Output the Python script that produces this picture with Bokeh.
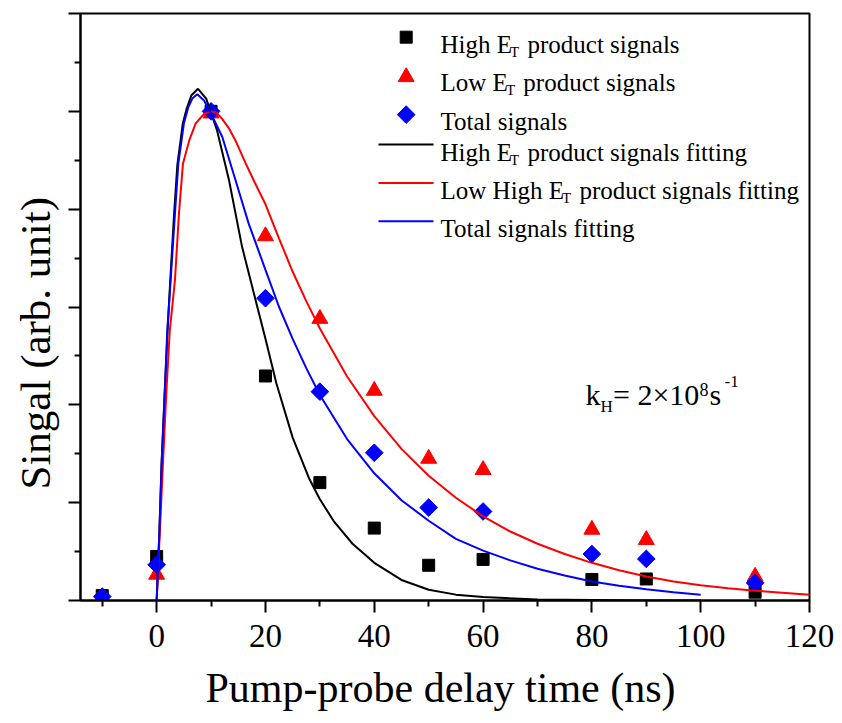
import math
from bokeh.plotting import figure
from bokeh.models import Range1d, FixedTicker, Label, Title, CustomJSTickFormatter
from bokeh.embed import file_html
from bokeh.resources import INLINE

# ---------------- data ----------------
delay = [-10, 0, 10, 20, 30, 40, 50, 60, 80, 90, 110]
high_et = [0.010, 0.090, 1.0, 0.459, 0.241, 0.148, 0.072, 0.084, 0.043, 0.044, 0.017]
low_et = [0.004, 0.053, 0.996, 0.745, 0.576, 0.429, 0.290, 0.267, 0.145, 0.124, 0.049]
total = [0.008, 0.073, 1.0, 0.618, 0.427, 0.302, 0.190, 0.182, 0.095, 0.085, 0.036]

high_fit_x = [0, 0.5, 0.9, 1.5, 2.0, 2.5, 3.2, 3.8, 4.8, 5.5, 6.4, 7.6, 9.1, 11.1, 13.3, 15.7,
              18.8, 20, 22, 25, 28, 30, 32.5, 36, 40, 45, 50, 55, 60, 70, 80, 90, 100]
high_fit_y = [0, 0.14, 0.28, 0.43, 0.55, 0.655, 0.79, 0.89, 0.975, 1.005, 1.033, 1.046, 1.026,
              0.961, 0.859, 0.723, 0.587, 0.535, 0.444, 0.333, 0.25, 0.207, 0.163, 0.116, 0.077,
              0.042, 0.022, 0.012, 0.007, 0.002, 0.001, 0.0, 0.0]

low_fit_x = [0, 0.5, 1.16, 1.8, 2.4, 3.36, 4.1, 4.83, 6.0, 7.16, 8.7, 10.2, 11.0, 12.0, 13.3,
             14.5, 16.3, 18.0, 20, 22.5, 25, 27.5, 30, 35, 40, 45, 50, 55, 60, 65, 70, 75, 80,
             85, 90, 95, 100, 105, 110, 115, 120]
low_fit_y = [0, 0.12, 0.281, 0.43, 0.55, 0.655, 0.791, 0.893, 0.941, 0.975, 0.995, 1.0, 0.997,
             0.985, 0.965, 0.94, 0.895, 0.855, 0.81, 0.74, 0.672, 0.612, 0.556, 0.458, 0.377,
             0.31, 0.255, 0.21, 0.172, 0.141, 0.116, 0.095, 0.077, 0.062, 0.049, 0.039, 0.031,
             0.025, 0.02, 0.016, 0.012]

total_fit_x = [0, 0.5, 0.92, 1.5, 1.96, 2.57, 3.36, 3.98, 5.0, 5.8, 6.55, 7.47, 8.7, 10, 12.05,
               14.5, 16.9, 20, 22.5, 25, 27.5, 30, 35, 40, 45, 50, 55, 60, 65, 70, 75, 80, 85,
               90, 95, 100]
total_fit_y = [0, 0.14, 0.281, 0.43, 0.553, 0.655, 0.791, 0.893, 0.975, 1.008, 1.026, 1.035,
               1.022, 0.995, 0.948, 0.859, 0.771, 0.676, 0.6, 0.535, 0.475, 0.42, 0.33, 0.26,
               0.205, 0.163, 0.126, 0.102, 0.082, 0.065, 0.051, 0.039, 0.030, 0.023, 0.017,
               0.012]

x_ticks = [0, 20, 40, 60, 80, 100, 120]
x_minor = [-10, 10, 30, 50, 70, 90, 110]
y_ticks = [0, 0.2, 0.4, 0.6, 0.8, 1.0, 1.2]
y_minor = [0.1, 0.3, 0.5, 0.7, 0.9, 1.1]

FONT = "Liberation Serif"

# ---------------- layout (page pixels) ----------------
X0, X1 = -14, 120
Y0, Y1 = 0, 1.2
F_LEFT, F_TOP, F_W, F_H = 80, 13, 729, 588
W, H = 842, 723

p = figure(width=W, height=H, output_backend="svg", toolbar_location=None,
           x_range=Range1d(X0, X1), y_range=Range1d(Y0, Y1),
           min_border_left=F_LEFT, min_border_right=W - F_LEFT - F_W,
           min_border_top=F_TOP, min_border_bottom=H - F_TOP - F_H)
p.background_fill_color = "white"
p.border_fill_color = "white"
p.outline_line_color = "black"
p.outline_line_width = 2
p.xgrid.visible = False
p.ygrid.visible = False

p.xaxis.ticker = FixedTicker(ticks=x_ticks, minor_ticks=x_minor)
p.yaxis.ticker = FixedTicker(ticks=y_ticks, minor_ticks=y_minor)
for ax in (p.xaxis[0], p.yaxis[0]):
    ax.axis_line_width = 2
    ax.axis_line_color = "black"
    ax.major_tick_line_width = 2
    ax.minor_tick_line_width = 2
    ax.major_tick_line_color = "black"
    ax.minor_tick_line_color = "black"
    ax.major_tick_in = 0
    ax.major_tick_out = 12
    ax.minor_tick_in = 0
    ax.minor_tick_out = 6
p.xaxis.major_label_text_font = FONT
p.xaxis.major_label_text_font_size = "33px"
p.xaxis.major_label_text_color = "black"
p.xaxis.major_label_standoff = 12
p.yaxis.formatter = CustomJSTickFormatter(code="return ''")
p.yaxis.major_label_standoff = 0


def sx(X):
    return X - F_LEFT


def sy(Y):
    return F_TOP + F_H - Y


# axis titles
p.add_layout(Title(text="Pump-probe delay time (ns)", align="left", offset=125, standoff=26,
                   text_font=FONT, text_font_size="42px", text_font_style="normal",
                   text_color="black"), "below")
p.add_layout(Title(text="Singal (arb. unit)", align="left", offset=111, standoff=19,
                   text_font=FONT, text_font_size="43px", text_font_style="normal",
                   text_color="black"), "left")

# data markers
p.scatter(delay, high_et, marker="square", size=12, color="black")
p.scatter(delay, low_et, marker="triangle", size=16, color="red")
p.scatter(delay, total, marker="square", size=12.5, angle=math.pi / 4, color="blue")
# fitting curves
p.line(high_fit_x, high_fit_y, line_color="black", line_width=2)
p.line(low_fit_x, low_fit_y, line_color="red", line_width=2)
p.line(total_fit_x, total_fit_y, line_color="blue", line_width=2)


# ---------------- legend (drawn by hand so E can carry a subscript T) ----------------
def dx(X):  # page px -> data x
    return X0 + (X - F_LEFT) * (X1 - X0) / F_W


def dy(Y):  # page px -> data y
    return Y0 + (F_TOP + F_H - Y) * (Y1 - Y0) / F_H


ICON_X = 405.7
p.scatter([dx(ICON_X)], [dy(36.7)], marker="square", size=12, color="black")
p.scatter([dx(ICON_X)], [dy(76.6)], marker="triangle", size=16, color="red")
p.scatter([dx(ICON_X)], [dy(114.3)], marker="square", size=12.5, angle=math.pi / 4, color="blue")
for yy, col in ((144.3, "black"), (182.7, "red"), (221.0, "blue")):
    p.line([dx(378), dx(433)], [dy(yy), dy(yy)], line_color=col, line_width=2)


def lab(X, Y, text, size, align="left"):
    p.add_layout(Label(x=sx(X), y=sy(Y), x_units="screen", y_units="screen", text=text,
                       text_font=FONT, text_font_size=f"{size}px", text_color="black",
                       text_align=align, text_baseline="alphabetic"))


LX = 440
lab(LX, 45, "High E", 25)
lab(509.5, 52, "T", 15)
lab(527, 45, "product signals", 25)
lab(LX, 83, "Low E", 25)
lab(505.5, 90, "T", 15)
lab(522.8, 83, "product signals", 25)
lab(LX, 122, "Total signals", 25)
lab(LX, 153, "High E", 25)
lab(509.5, 160, "T", 15)
lab(527, 153, "product signals fitting", 25)
lab(LX, 191, "Low High E", 25)
lab(561.6, 198, "T", 15)
lab(579, 191, "product signals fitting", 25)
lab(LX, 229, "Total signals fitting", 25)

# rate annotation
lab(585, 395, "k", 30)
lab(600, 406.5, "H", 17)
lab(612.5, 395, "= 2\u00d710", 30)
lab(699, 390, "8", 18)
lab(709, 395, "s", 30)
lab(724, 382, "-1", 17)

open("out.html", "w").write(file_html(p, INLINE))
